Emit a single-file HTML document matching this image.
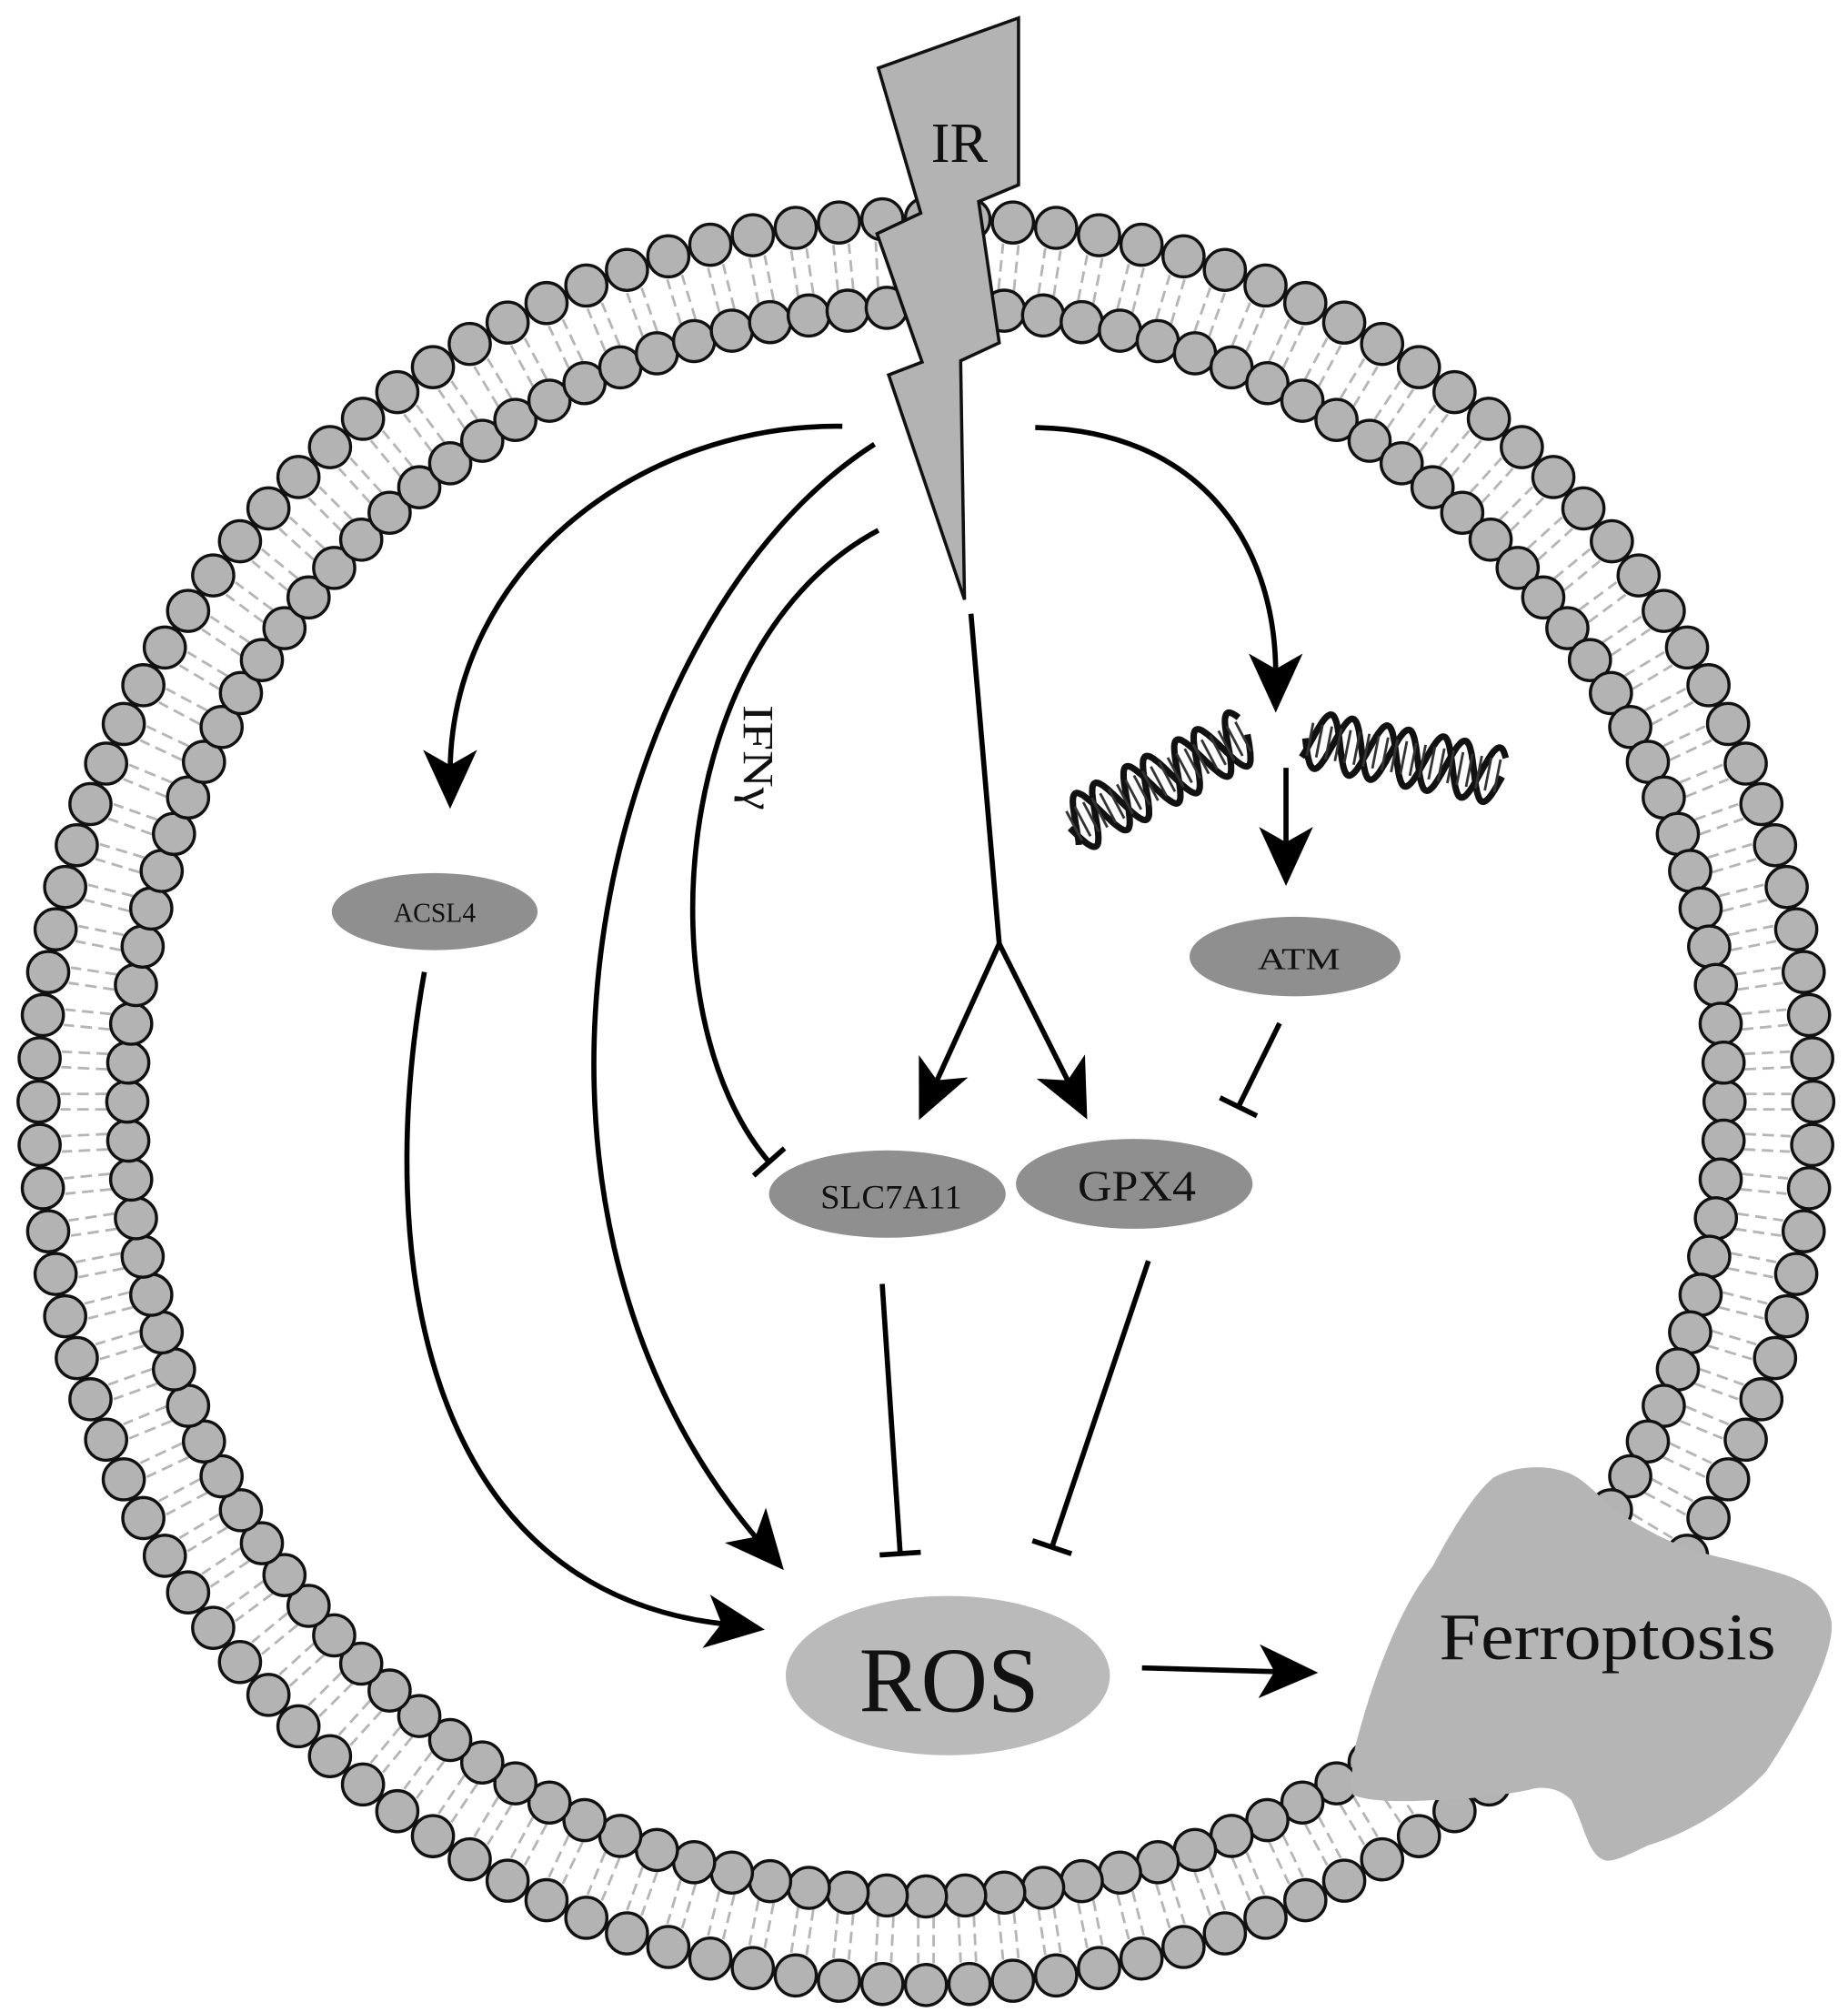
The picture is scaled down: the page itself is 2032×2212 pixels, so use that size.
<!DOCTYPE html>
<html><head><meta charset="utf-8"><style>
html,body{margin:0;padding:0;background:#fff;}
svg{display:block;}
text{font-family:"Liberation Serif",serif;fill:#111;}
</style></head><body>
<svg id="s" xmlns="http://www.w3.org/2000/svg" width="2032" height="2212" viewBox="0 0 2032 2212">
<rect width="2032" height="2212" fill="#fff"/>
<g id="g" transform="scale(1.41406,1.4116)">
<g id="mem"></g>
<path d="M1161,1151 C1180,1140 1210,1140 1227,1151 C1240,1160 1250,1172 1255,1176 C1280,1192 1300,1202 1318,1208 C1350,1216 1375,1222 1392,1228 C1410,1235 1420,1245 1424,1262 C1428,1285 1400,1340 1373,1380 C1340,1415 1300,1432 1282,1437 C1265,1445 1252,1452 1246,1448 C1235,1443 1233,1425 1222,1402 C1210,1390 1195,1392 1189,1394 C1160,1400 1130,1402 1114,1402 C1080,1404 1062,1402 1052,1398 C1050,1385 1052,1365 1056,1352 C1070,1300 1090,1250 1114,1220 C1130,1190 1145,1165 1161,1151 Z" fill="#b5b5b5"/>
<text x="1250" y="1292" font-size="52" text-anchor="middle" textLength="262" lengthAdjust="spacingAndGlyphs">Ferroptosis</text>
<polygon points="683,53 792,14 792,144 761,157 777,267 747,281 750,467 691,292 717,282 682,182 716,166" fill="#b3b3b3" stroke="#111" stroke-width="2.5" stroke-linejoin="miter"/>
<text x="746" y="126" font-size="44" text-anchor="middle">IR</text>
<ellipse cx="338" cy="710" rx="80" ry="30" fill="#8f8f8f"/>
<text x="338" y="718" font-size="22" text-anchor="middle" textLength="64" lengthAdjust="spacingAndGlyphs">ACSL4</text>
<ellipse cx="690" cy="930" rx="92" ry="34" fill="#8f8f8f"/>
<text x="693" y="941" font-size="26" text-anchor="middle" textLength="110" lengthAdjust="spacingAndGlyphs">SLC7A11</text>
<ellipse cx="882" cy="922" rx="92" ry="35" fill="#8f8f8f"/>
<text x="884" y="935" font-size="34" text-anchor="middle" textLength="92" lengthAdjust="spacingAndGlyphs">GPX4</text>
<ellipse cx="1007" cy="745" rx="82" ry="31" fill="#8f8f8f"/>
<text x="1010" y="755" font-size="24" text-anchor="middle" textLength="64" lengthAdjust="spacingAndGlyphs">ATM</text>
<ellipse cx="737" cy="1305" rx="126" ry="62" fill="#bababa"/>
<text x="738" y="1333" font-size="72" text-anchor="middle" textLength="140" lengthAdjust="spacingAndGlyphs">ROS</text>
<text transform="translate(578,590) rotate(90)" font-size="34" text-anchor="middle" textLength="82" lengthAdjust="spacingAndGlyphs">IFNγ</text>
<g id="arr" fill="none" stroke="#000" stroke-width="4"></g>
<g id="dna"></g>
</g>
</svg>
<script>
var NS="http://www.w3.org/2000/svg";
function el(p,t,a){var e=document.createElementNS(NS,t);for(var k in a)e.setAttribute(k,a[k]);p.appendChild(e);return e;}
var mem=document.getElementById('mem');
var cx=720,cy=858,N=128;
for(var i=0;i<N;i++){var a=i/N*2*Math.PI;var c=Math.cos(a),s=Math.sin(a);
 for(var o=-6;o<=6;o+=12){var tx=-s*o,ty=c*o;
  el(mem,'line',{x1:cx+c*637+tx,y1:cy+s*635+ty,x2:cx+c*673+tx,y2:cy+s*671+ty,stroke:'#b5b5b5','stroke-width':2,'stroke-dasharray':'9 5'});}}
for(var i=0;i<N;i++){var a=i/N*2*Math.PI;
 el(mem,'circle',{cx:cx+Math.cos(a)*690,cy:cy+Math.sin(a)*688,r:16,fill:'#b3b3b3',stroke:'#111','stroke-width':2.4});
 el(mem,'circle',{cx:cx+Math.cos(a)*621,cy:cy+Math.sin(a)*619,r:16,fill:'#b3b3b3',stroke:'#111','stroke-width':2.4});}
var g=document.getElementById('arr');
function head(ex,ey,px,py){var dx=ex-px,dy=ey-py,L=Math.hypot(dx,dy);dx/=L;dy/=L;var nx=-dy,ny=dx;
 var tx=ex+dx*30,ty=ey+dy*30,bx=tx-dx*46,by=ty-dy*46;
 el(g,'polygon',{points:[tx,ty,bx+nx*21,by+ny*21,tx-dx*34,ty-dy*34,bx-nx*21,by-ny*21].join(' '),fill:'#000',stroke:'none'});}
function tbar(ex,ey,px,py){var dx=ex-px,dy=ey-py,L=Math.hypot(dx,dy);dx/=L;dy/=L;var nx=-dy,ny=dx;
 el(g,'line',{x1:ex+nx*16,y1:ey+ny*16,x2:ex-nx*16,y2:ey-ny*16});}
function P(d){el(g,'path',{d:d});}
P('M655,332 C500,330 352,440 350,600');head(350,600,350,560);
P('M680,346 C470,480 360,930 590,1200');head(590,1200,560,1165);
P('M683,413 C520,500 500,790 598,905');tbar(598,905,560,862);
P('M330,757 C290,980 330,1240 565,1265');head(565,1265,530,1260);
P('M805,333 C930,335 992,420 992,525');head(992,525,992,490);
P('M1000,598 L1000,660');head(1000,660,1000,620);
P('M995,797 L963,862');tbar(963,862,995,797);
P('M686,1000 L700,1210');tbar(700,1210,686,1000);
P('M893,982 L818,1205');tbar(818,1205,893,982);
P('M888,1299 L995,1302');head(995,1302,955,1301);
P('M755,478 L777,735 L727,845');head(727,845,777,735);
P('M777,735 L832,845');head(832,845,777,735);
var dna=document.getElementById('dna');
function helix(x1,y1,x2,y2,n){var dx=x2-x1,dy=y2-y1,L=Math.hypot(dx,dy),ux=dx/L,uy=dy/L,nx=-uy,ny=ux;
 for(var ph=0;ph<2;ph++){var d='';for(var k=0;k<=200;k++){var t=k/200;var amp=22*Math.sin(t*Math.PI*2*n+ph*2.4);var x=x1+dx*t+nx*amp,y=y1+dy*t+ny*amp;d+=(k?'L':'M')+x.toFixed(1)+','+y.toFixed(1);}
 el(dna,'path',{d:d,fill:'none',stroke:'#111','stroke-width':5});}
 for(var k=0;k<n*6;k++){var t=(k+0.5)/(n*6);var bx=x1+dx*t,by=y1+dy*t;el(dna,'line',{x1:bx+nx*13,y1:by+ny*13,x2:bx-nx*13,y2:by-ny*13,stroke:'#333','stroke-width':2});}}
helix(832,645,970,572,3.5);
helix(1015,575,1168,605,3.5);
</script>
</body></html>
